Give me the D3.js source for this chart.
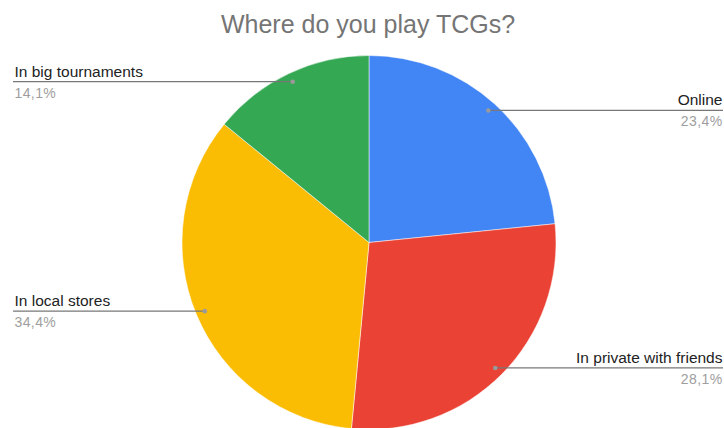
<!DOCTYPE html>
<html>
<head>
<meta charset="utf-8">
<script src="https://cdn.jsdelivr.net/npm/d3@7"></script>
<style>
  html, body { margin: 0; padding: 0; background: #fff; }
  svg { display: block; }
  text { font-family: "Liberation Sans", Arial, sans-serif; }
</style>
</head>
<body>
<svg id="chart" width="724" height="428"></svg>
<script>
// Survey answers, in drawing order (clockwise from 12 o'clock)
const categories = ["Online", "In private with friends", "In local stores", "In big tournaments"];
const shares = [23.4, 28.1, 34.4, 14.1];
const sliceColors = ["#4285F4", "#EA4335", "#FBBC04", "#34A853"];
const title = "Where do you play TCGs?";

const width = 724, height = 428;
const cx = 369, cy = 242.5, radius = 187;
const dotRadius = 178;          // where the leader lines meet each slice
const leftX = 13, rightX = 723; // leader lines run out to these edges

const svg = d3.select("#chart");

svg.append("text")
  .attr("x", 368)
  .attr("y", 33)
  .attr("text-anchor", "middle")
  .attr("font-size", 25)
  .attr("fill", "#757575")
  .text(title);

const rows = categories.map((c, i) => ({ name: c, value: shares[i], color: sliceColors[i] }));

const pie = d3.pie().sort(null).value(d => d.value);
const arcs = pie(rows);
const arc = d3.arc().innerRadius(0).outerRadius(radius);
const dotArc = d3.arc().innerRadius(dotRadius).outerRadius(dotRadius);

const g = svg.append("g").attr("transform", `translate(${cx},${cy})`);

g.selectAll("path.slice")
  .data(arcs)
  .join("path")
  .attr("class", "slice")
  .attr("d", arc)
  .attr("fill", d => d.data.color)
  .attr("stroke", "#fff")
  .attr("stroke-width", 0.5);

const fmt = v => d3.format(".1f")(v).replace(".", ",") + "%";

const labels = svg.append("g");
arcs.forEach(a => {
  const [dx, dy] = dotArc.centroid(a);
  const px = cx + dx, py = cy + dy;
  const mid = (a.startAngle + a.endAngle) / 2;
  const right = mid < Math.PI;
  const endX = right ? rightX : leftX;
  const anchor = right ? "end" : "start";
  const textX = right ? rightX - 0.5 : leftX + 1.5;

  labels.append("line")
    .attr("x1", px).attr("y1", py)
    .attr("x2", endX).attr("y2", py)
    .attr("stroke", "#777")
    .attr("stroke-width", 1.2);

  labels.append("circle")
    .attr("cx", px).attr("cy", py)
    .attr("r", 2.3)
    .attr("fill", "#9a9a9a");

  labels.append("text")
    .attr("x", textX).attr("y", py - 5)
    .attr("text-anchor", anchor)
    .attr("font-size", 15.5)
    .attr("fill", "#222")
    .text(a.data.name);

  labels.append("text")
    .attr("x", textX).attr("y", py + 16)
    .attr("text-anchor", anchor)
    .attr("font-size", 14)
    .attr("letter-spacing", 0.4)
    .attr("fill", "#9e9e9e")
    .text(fmt(a.data.value));
});
</script>
</body>
</html>
